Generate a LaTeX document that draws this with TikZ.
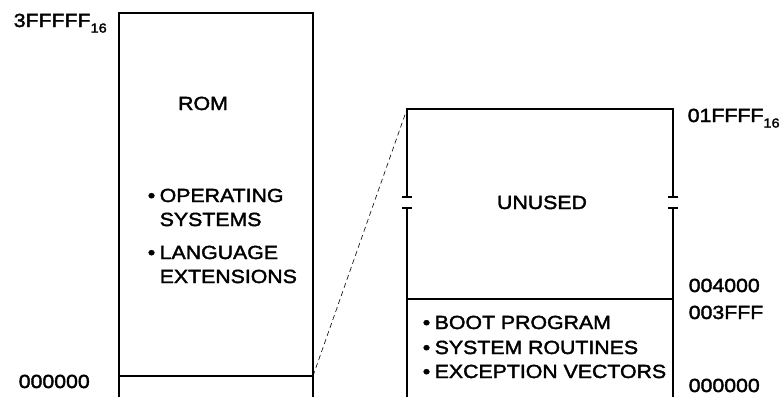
\documentclass[tikz,border=0pt]{standalone}
\usepackage{fontspec}
\setmainfont{Liberation Sans}[FakeStretch=1.12, FakeBold=2]
\newcommand{\hexsub}[1]{\raisebox{-0.55ex}{\fontsize{13}{13}\selectfont #1}}
\newcommand{\itm}{\llap{\textbullet\hspace{4.5pt}}}

\begin{document}
\begin{tikzpicture}[x=1pt, y=-1pt, font=\fontsize{19}{24}\selectfont, line width=1.5pt,
  lbl/.style={anchor=base west, inner sep=0pt},
  ttl/.style={anchor=base, inner sep=0pt},
  txt/.style={anchor=base west, inner sep=0pt, align=left}]
  \useasboundingbox (0,0) rectangle (783,397);
  % y-coordinate = pixel row counted from the top
  % full map (ROM)
  \coordinate (romcorner) at (313,376);
  \draw (119,397) -- (119,13) -- (313,13) -- (313,397);
  \draw (119,376) -- (romcorner);
  \node[lbl] (romhi) at (13,27) {3FFFFF\hexsub{16}};
  \node[lbl] (romlo) at (18,388) {000000};
  \node[ttl] (rom) at (203,110) {ROM};
  \node[txt] (os) at (159,226) {\itm OPERATING\\SYSTEMS};
  \node[txt] (lang) at (159,283) {\itm LANGUAGE\\EXTENSIONS};
  % enlarged low part, with a break in the sides
  \coordinate (bootcorner) at (407,109);
  \draw (407,197) -- (bootcorner) -- (673,109) -- (673,197);
  \draw (407,208) -- (407,397); \draw (673,208) -- (673,397);
  \draw (402,197) -- (412,197); \draw (402,208) -- (412,208);
  \draw (668,197) -- (678,197); \draw (668,208) -- (678,208);
  \draw (407,299) -- (673,299);
  \draw[dash pattern=on 5pt off 3.5pt, line width=0.6pt] (romcorner) -- (bootcorner);
  \node[lbl] (unhi) at (687,122) {01FFFF\hexsub{16}};
  \node[ttl] (unused) at (542,209) {UNUSED};
  \node[lbl] (unlo) at (688,292) {004000};
  \node[lbl] (boothi) at (688,319) {003FFF};
  \node[lbl] (bootlo) at (688,392) {000000};
  \node[lbl] (boot) at (434,329) {\itm BOOT PROGRAM};
  \node[lbl] (sysr) at (434,354) {\itm SYSTEM ROUTINES};
  \node[lbl] (exc) at (434,378) {\itm EXCEPTION VECTORS};
\end{tikzpicture}
\end{document}
